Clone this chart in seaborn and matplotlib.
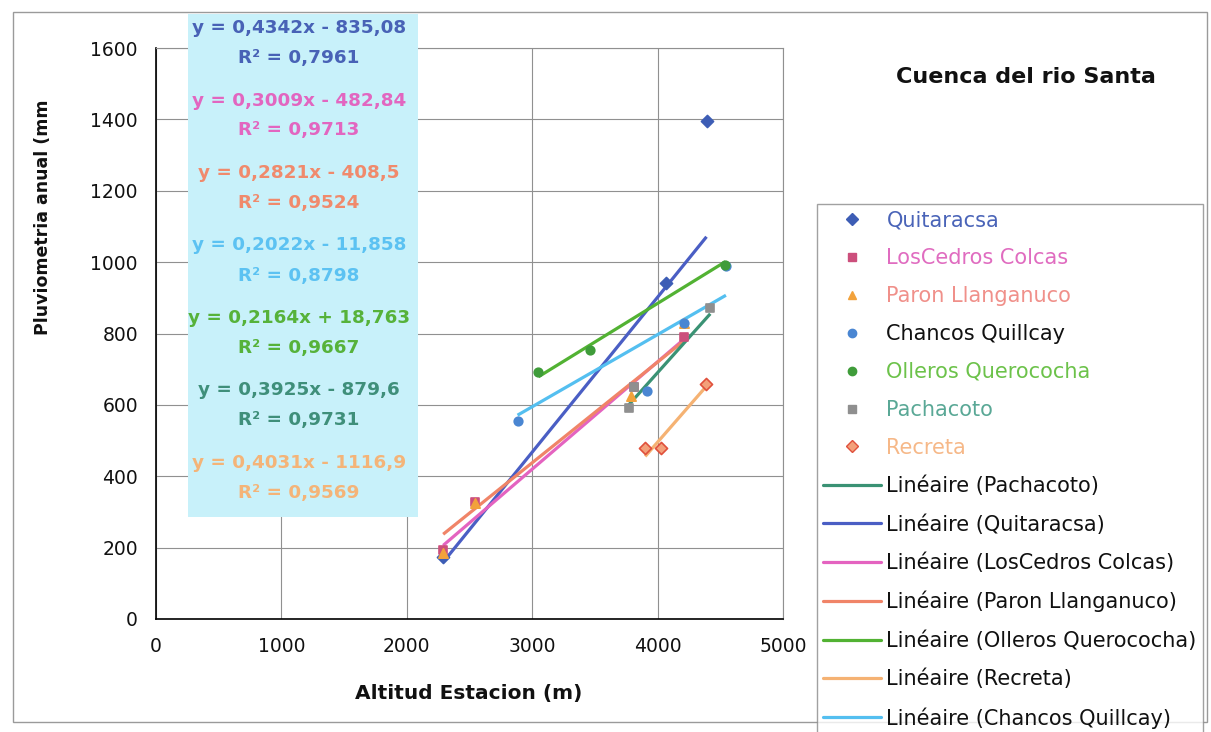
import matplotlib
matplotlib.use("Agg")
import numpy as np
import pandas as pd
import seaborn as sns
import matplotlib.pyplot as plt
from matplotlib.lines import Line2D
from matplotlib.patches import Rectangle

# ---------------- data ----------------
series_names = ["Quitaracsa", "LosCedros Colcas", "Paron Llanganuco", "Chancos Quillcay",
                "Olleros Querococha", "Pachacoto", "Recreta"]

quitaracsa_x = [2290, 4070, 4390]
quitaracsa_y = [175, 942, 1396]
loscedros_x = [2290, 2545, 3810, 4210]
loscedros_y = [193, 329, 651, 790]
paron_x = [2290, 2545, 3790, 4207]
paron_y = [185, 325, 625, 830]
chancos_x = [2883, 3915, 4207, 4545]
chancos_y = [556, 640, 830, 990]
olleros_x = [3050, 3457, 4540]
olleros_y = [693, 754, 992]
pachacoto_x = [3771, 3808, 4420]
pachacoto_y = [590, 651, 871]
recreta_x = [3901, 4029, 4388]
recreta_y = [478, 478, 658]

# trend-line coefficients as printed on the chart (same order as series_names)
trend_slopes = [0.4342, 0.3009, 0.2821, 0.2022, 0.2164, 0.3925, 0.4031]
trend_intercepts = [-835.08, -482.84, -408.5, -11.858, 18.763, -879.6, -1116.9]
trend_r2 = [0.7961, 0.9713, 0.9524, 0.8798, 0.9667, 0.9731, 0.9569]

# order of the equations in the label box and of the trend lines in the legend
equation_order = ["Quitaracsa", "LosCedros Colcas", "Paron Llanganuco", "Chancos Quillcay",
                  "Olleros Querococha", "Pachacoto", "Recreta"]
trend_legend_order = ["Pachacoto", "Quitaracsa", "LosCedros Colcas", "Paron Llanganuco",
                      "Olleros Querococha", "Recreta", "Chancos Quillcay"]

x_ticks = [0, 1000, 2000, 3000, 4000, 5000]
y_ticks = [0, 200, 400, 600, 800, 1000, 1200, 1400, 1600]

xs = [quitaracsa_x, loscedros_x, paron_x, chancos_x, olleros_x, pachacoto_x, recreta_x]
ys = [quitaracsa_y, loscedros_y, paron_y, chancos_y, olleros_y, pachacoto_y, recreta_y]

df = pd.concat([pd.DataFrame({"serie": n, "alt": x, "pluv": y})
                for n, x, y in zip(series_names, xs, ys)], ignore_index=True)

# ---------------- styles ----------------
marker_style = {
    "Quitaracsa":         dict(marker="D", color="#3d5db5", edge="#3d5db5", s=38),
    "LosCedros Colcas":   dict(marker="s", color="#cc4f7c", edge="#cc4f7c", s=38),
    "Paron Llanganuco":   dict(marker="^", color="#f2a23c", edge="#f2a23c", s=45),
    "Chancos Quillcay":   dict(marker="o", color="#4a86d2", edge="#4a86d2", s=38),
    "Olleros Querococha": dict(marker="o", color="#3f9c3a", edge="#3f9c3a", s=38),
    "Pachacoto":          dict(marker="s", color="#8f8f8f", edge="#8f8f8f", s=28),
    "Recreta":            dict(marker="D", color="#f3a07a", edge="#e0503c", s=38),
}
line_color = {
    "Quitaracsa": "#4a5ec4",
    "LosCedros Colcas": "#e463c0",
    "Paron Llanganuco": "#f08468",
    "Chancos Quillcay": "#54bff0",
    "Olleros Querococha": "#52b233",
    "Pachacoto": "#3a9274",
    "Recreta": "#f5b273",
}
text_color = {
    "Quitaracsa": "#4a64b8",
    "LosCedros Colcas": "#e06cc0",
    "Paron Llanganuco": "#f0908a",
    "Chancos Quillcay": "#111111",
    "Olleros Querococha": "#6cc24a",
    "Pachacoto": "#5aa896",
    "Recreta": "#f6b888",
}
eq_color = {
    "Quitaracsa": "#4862b6",
    "LosCedros Colcas": "#e266c0",
    "Paron Llanganuco": "#f08a6c",
    "Chancos Quillcay": "#5cc2f2",
    "Olleros Querococha": "#56b23a",
    "Pachacoto": "#3f8f7a",
    "Recreta": "#f4b478",
}

sns.set_theme(style="white")
plt.rcParams["font.family"] = ["DejaVu Sans"]

W, H = 1211, 732
fig = plt.figure(figsize=(W / 100, H / 100), dpi=100)
fig.patch.set_facecolor("white")
ax = fig.add_axes([156 / W, 1 - 619 / H, (783 - 156) / W, (619 - 48) / H])
ax.set_facecolor("white")

# trend lines
for i, name in enumerate(series_names):
    sub = df[df.serie == name]
    xr = np.array([sub.alt.min(), sub.alt.max()], dtype=float)
    ax.plot(xr, trend_slopes[i] * xr + trend_intercepts[i], color=line_color[name],
            lw=2.3, zorder=3, solid_capstyle="butt")

# markers
for name in series_names:
    st = marker_style[name]
    sub = df[df.serie == name]
    sns.scatterplot(data=sub, x="alt", y="pluv", marker=st["marker"], color=st["color"],
                    edgecolor=st["edge"], linewidth=1.2, s=st["s"], ax=ax, zorder=4,
                    legend=False)

ax.set_xlim(0, 5000)
ax.set_ylim(0, 1600)
ax.set_xticks(x_ticks)
ax.set_yticks(y_ticks)
ax.grid(True, color="#909090", lw=0.8)
ax.set_axisbelow(True)
for sp in ["left", "bottom"]:
    ax.spines[sp].set_color("black")
    ax.spines[sp].set_linewidth(1.2)
for sp in ["top", "right"]:
    ax.spines[sp].set_color("#909090")
    ax.spines[sp].set_linewidth(0.8)
ax.tick_params(axis="both", direction="out", length=4, width=1, color="#333333",
               labelsize=13.5, pad=9, labelcolor="#111111")
ax.set_xlabel("")
ax.set_ylabel("")

fig.text(469 / W, 1 - 693 / H, "Altitud Estacion (m)", ha="center", va="center",
         fontsize=14.5, fontweight="bold", color="#111111")
fig.text(43 / W, 1 - 217 / H, "Pluviometria anual (mm", ha="center", va="center",
         rotation=90, fontsize=12.5, fontweight="bold", color="#111111")
fig.text(1026 / W, 1 - 77 / H, "Cuenca del rio Santa", ha="center", va="center",
         fontsize=16, fontweight="bold", color="#111111")

# equation box
fig.patches.append(Rectangle((188 / W, 1 - 517 / H), (418 - 188) / W, (517 - 14) / H,
                             transform=fig.transFigure, facecolor="#c8f1fa",
                             edgecolor="none", zorder=1))


def fmt(v):
    return str(v).replace(".", ",")


for k, name in enumerate(equation_order):
    i = series_names.index(name)
    a, b, r2 = trend_slopes[i], trend_intercepts[i], trend_r2[i]
    sign = "+" if b >= 0 else "-"
    eq = f"y = {a:.4f}".replace(".", ",") + f"x {sign} {fmt(abs(b))}"
    r2s = f"R² = {r2:.4f}".replace(".", ",")
    yc = 28 + 72.5 * k
    fig.text(299 / W, 1 - yc / H, eq, ha="center", va="center", fontsize=13.2,
             fontweight="bold", color=eq_color[name], zorder=2)
    fig.text(299 / W, 1 - (yc + 30) / H, r2s, ha="center", va="center", fontsize=13.2,
             fontweight="bold", color=eq_color[name], zorder=2)

# legend
handles, labels, lcolors = [], [], []
for name in series_names:
    st = marker_style[name]
    handles.append(Line2D([], [], linestyle="none", marker=st["marker"],
                          markerfacecolor=st["color"], markeredgecolor=st["edge"],
                          markersize=6))
    labels.append(name)
    lcolors.append(text_color[name])
for name in trend_legend_order:
    handles.append(Line2D([], [], color=line_color[name], lw=2.3))
    labels.append(f"Linéaire ({name})")
    lcolors.append("#111111")

leg = fig.legend(handles, labels, loc="upper left",
                 bbox_to_anchor=(817 / W, 1 - 204 / H), frameon=True, fancybox=False,
                 fontsize=15, handlelength=2.75, handletextpad=0.28, labelspacing=0.86,
                 borderpad=0.3, borderaxespad=0)
leg.get_frame().set_edgecolor("#8a8a8a")
leg.get_frame().set_linewidth(1)
for t, c in zip(leg.get_texts(), lcolors):
    t.set_color(c)

# outer border
fig.patches.append(Rectangle((13 / W, 1 - 722 / H), (1207 - 13) / W, (722 - 12) / H,
                             transform=fig.transFigure, facecolor="none",
                             edgecolor="#9a9a9a", lw=1, zorder=0))

fig.savefig("out.png", dpi=100, facecolor="white")
